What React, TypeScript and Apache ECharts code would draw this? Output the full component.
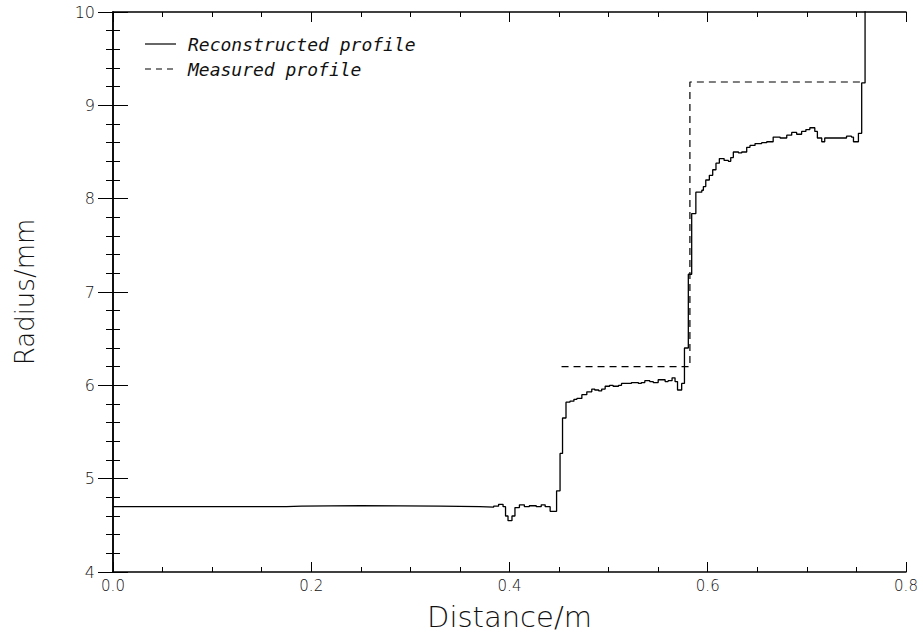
import React, { useEffect, useRef } from "react";
import * as echarts from "echarts";

// Reconstructed profile: [distance (m) where level starts, radius (mm)]
const reconstructedX = [
  0.0, 0.175, 0.19, 0.25, 0.33, 0.37, 0.384, 0.389, 0.3935, 0.396, 0.3985, 0.4025,
  0.4055, 0.41, 0.415, 0.42, 0.427, 0.432, 0.436, 0.441, 0.4475, 0.451, 0.4535,
  0.457, 0.461, 0.465, 0.468, 0.473, 0.478, 0.483, 0.486, 0.49, 0.493, 0.4965,
  0.501, 0.5045, 0.51, 0.513, 0.523, 0.53, 0.533, 0.5365, 0.5415, 0.545, 0.55,
  0.557, 0.56, 0.564, 0.567, 0.5695, 0.5737, 0.5765, 0.5804, 0.5838, 0.588,
  0.594, 0.5956, 0.598, 0.6016, 0.605, 0.6083, 0.6117, 0.6165, 0.6208, 0.6232,
  0.6258, 0.631, 0.6343, 0.6393, 0.6426, 0.6477, 0.6544, 0.6595, 0.666, 0.673,
  0.6797, 0.6847, 0.6897, 0.6947, 0.699, 0.703, 0.708, 0.7106, 0.715, 0.718,
  0.74, 0.745, 0.747, 0.752, 0.7553, 0.7587,
];
const reconstructedR = [
  4.7, 4.705, 4.712, 4.706, 4.7, 4.695, 4.705, 4.725, 4.7, 4.6, 4.55, 4.6,
  4.69, 4.72, 4.7, 4.71, 4.7, 4.72, 4.7, 4.65, 4.87, 5.27, 5.65,
  5.82, 5.83, 5.85, 5.86, 5.9, 5.93, 5.96, 5.95, 5.94, 5.96, 5.99,
  6.0, 5.99, 6.0, 6.02, 6.03, 6.02, 6.03, 6.05, 6.04, 6.03, 6.06,
  6.04, 6.05, 6.08, 6.04, 5.95, 6.02, 6.4, 7.19, 7.84, 8.07,
  8.09, 8.13, 8.2, 8.25, 8.31, 8.38, 8.43, 8.41, 8.4, 8.44,
  8.5, 8.49, 8.5, 8.55, 8.57, 8.59, 8.6, 8.61, 8.66, 8.65,
  8.68, 8.71, 8.69, 8.72, 8.74, 8.76, 8.72, 8.65, 8.61, 8.65,
  8.67, 8.66, 8.61, 8.7, 9.24, 10.5,
];

// Measured profile
const measuredX = [0.4525, 0.582, 0.757];
const measuredR = [6.2, 9.25, 9.25];

const xTicks = ["0.0", "0.2", "0.4", "0.6", "0.8"];
const legendNames = ["Reconstructed profile", "Measured profile"];

const FONT = "DejaVu Sans";

export default function App() {
  const ref = useRef<HTMLDivElement>(null);
  useEffect(() => {
    if (!ref.current) return;
    const chart = echarts.init(ref.current, undefined, { renderer: "svg" });
    const axisLine = { show: true, lineStyle: { color: "#000", width: 1.5 } };
    const xBase = {
      type: "value" as const,
      min: 0,
      max: 0.8,
      interval: 0.2,
      axisLine,
      axisTick: { show: true, inside: true, length: 10, lineStyle: { color: "#000", width: 1 } },
      minorTick: { show: true, splitNumber: 4, length: 5, lineStyle: { color: "#000", width: 1 } },
      splitLine: { show: false },
      minorSplitLine: { show: false },
    };
    const yBase = {
      type: "value" as const,
      min: 4,
      max: 10,
      interval: 1,
      axisLine,
      axisTick: { show: true, inside: true, length: 15, lineStyle: { color: "#000", width: 1 } },
      minorTick: { show: true, splitNumber: 5, length: 7, lineStyle: { color: "#000", width: 1 } },
      splitLine: { show: false },
      minorSplitLine: { show: false },
    };
    const toPairs = (xs: number[], ys: number[]) => xs.map((x, i) => [x, ys[i]]);
    const legendText = (text: string, y: number) => ({
      type: "text",
      x: 188,
      y,
      style: {
        text,
        fontFamily: "DejaVu Sans Mono",
        fontStyle: "italic",
        fontWeight: 200,
        fontSize: 18,
        fill: "#111",
        verticalAlign: "middle",
      },
    });
    chart.setOption({
      animation: false,
      backgroundColor: "#fff",
      grid: { left: 113, right: 17, top: 12, bottom: 68 },
      xAxis: [
        {
          ...xBase,
          position: "bottom",
          axisLabel: {
            show: true,
            margin: 6,
            fontFamily: FONT,
            fontWeight: 200,
            fontSize: 15,
            color: "#111",
            formatter: (v: number) => xTicks[Math.round(v / 0.2)] ?? v.toFixed(1),
          },
          name: "Distance/m",
          nameLocation: "middle",
          nameGap: 30,
          nameTextStyle: { fontFamily: FONT, fontWeight: 200, fontSize: 29, color: "#111" },
        },
        { ...xBase, position: "top", axisLabel: { show: false } },
      ],
      yAxis: [
        {
          ...yBase,
          position: "left",
          axisLabel: {
            show: true,
            margin: 18,
            fontFamily: FONT,
            fontWeight: 200,
            fontSize: 16,
            color: "#111",
          },
          name: "Radius/mm",
          nameLocation: "middle",
          nameGap: 75,
          nameTextStyle: { fontFamily: FONT, fontWeight: 200, fontSize: 26, color: "#111" },
        },
        { ...yBase, position: "right", axisLabel: { show: false } },
      ],
      graphic: [
        {
          type: "line",
          shape: { x1: 145, y1: 44, x2: 176, y2: 44 },
          style: { stroke: "#000", lineWidth: 1.2 },
        },
        legendText(legendNames[0], 44),
        {
          type: "line",
          shape: { x1: 145, y1: 69, x2: 176, y2: 69 },
          style: { stroke: "#000", lineWidth: 1.2, lineDash: [6, 5] },
        },
        legendText(legendNames[1], 69),
      ],
      series: [
        {
          name: legendNames[0],
          type: "line",
          step: "end",
          showSymbol: false,
          clip: true,
          data: toPairs(reconstructedX, reconstructedR),
          lineStyle: { color: "#000", width: 1.3 },
        },
        {
          name: legendNames[1],
          type: "line",
          step: "end",
          showSymbol: false,
          clip: true,
          data: toPairs(measuredX, measuredR),
          lineStyle: { color: "#000", width: 1.2, type: [7, 5] },
        },
      ],
    });
    return () => chart.dispose();
  }, []);
  return <div ref={ref} style={{ width: 923, height: 640, position: "absolute", left: 0, top: 0 }} />;
}
